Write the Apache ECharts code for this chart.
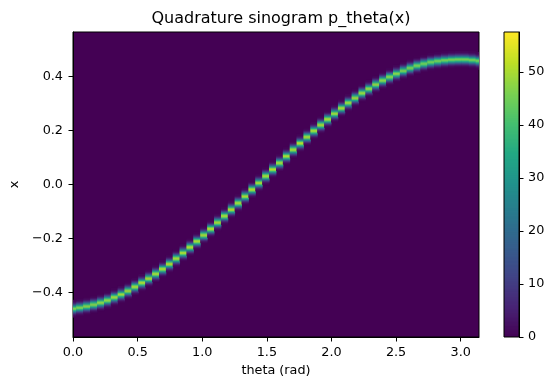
<!DOCTYPE html>
<html>
<head>
<meta charset="utf-8">
<script src="https://cdn.jsdelivr.net/npm/echarts@6/dist/echarts.min.js"></script>
<style>
html, body { margin: 0; padding: 0; background: #fff; }
#chart { width: 556px; height: 390px; }
</style>
</head>
<body>
<div id="chart"></div>
<script>
// theta columns run from 0 to pi
const thetaCount = 60
const thetaMax = Math.PI

// centre of the bright ridge (x) in each theta column
const ridgeCenter = [
    -0.459, -0.455, -0.450, -0.444, -0.437, -0.428, -0.417, -0.406, -0.393, -0.378,
    -0.363, -0.347, -0.330, -0.312, -0.293, -0.273, -0.252, -0.231, -0.209, -0.186,
    -0.163, -0.139, -0.115, -0.091, -0.067, -0.042, -0.017, 0.008, 0.033, 0.058,
    0.082, 0.107, 0.131, 0.155, 0.178, 0.201, 0.223, 0.244, 0.265, 0.285,
    0.305, 0.323, 0.341, 0.357, 0.373, 0.388, 0.401, 0.413, 0.424, 0.434,
    0.443, 0.450, 0.456, 0.460, 0.463, 0.465, 0.466, 0.466, 0.464, 0.461
]

// peak density of the ridge in each column
const ridgePeak = [
    46, 46, 47, 47, 48, 48, 49, 49, 49, 50,
    50, 50, 50, 50, 51, 50, 50, 51, 50, 50,
    51, 50, 50, 51, 50, 50, 51, 50, 50, 51,
    50, 50, 50, 51, 50, 50, 50, 50, 49, 50,
    49, 49, 49, 48, 48, 48, 47, 47, 46, 46,
    46, 45, 45, 45, 45, 45, 45, 45, 45, 45
]

// spread of the ridge across x
const ridgeWidth = 0.0100

const xRange = [-0.566, 0.566]
const cbMax = 57.5

const xTicks = [0, 0.5, 1.0, 1.5, 2.0, 2.5, 3.0]
const yTicks = [-0.4, -0.2, 0.0, 0.2, 0.4]
const cbTicks = [0, 10, 20, 30, 40, 50]

const viridis = ['#440154', '#482475', '#414487', '#355f8d', '#2a788e', '#21918c',
    '#22a884', '#44bf70', '#7ad151', '#bddf26', '#fde725']

const font = 'DejaVu Sans'
const dTheta = thetaMax / (thetaCount - 1)
const dx = 0.004
const cbSteps = 230

const fmt = v => (v < 0 ? '\u2212' : '') + Math.abs(v).toFixed(1)

// cells of the sinogram
const buildCells = () => {
    let cells = []
    const rows = Math.round((xRange[1] - xRange[0]) / dx)
    ridgeCenter.forEach((c, i) => {
        for (let r = 0; r <= rows; r++) {
            let x = xRange[0] + r * dx
            let v = ridgePeak[i] * Math.exp(-0.5 * Math.pow((x - c) / ridgeWidth, 2))
            if (v > 0.3) cells.push([i * dTheta, x, v])
        }
    })
    return cells
}

// colour bar levels
const buildLevels = () => {
    let levels = []
    for (let k = 0; k <= cbSteps; k++) levels.push([0.5, k * cbMax / cbSteps, k * cbMax / cbSteps])
    return levels
}

const renderCell = (params, api) => {
    const p0 = api.coord([api.value(0) - dTheta / 2, api.value(1) + dx / 2])
    const p1 = api.coord([api.value(0) + dTheta / 2, api.value(1) - dx / 2])
    return {
        type: 'rect',
        shape: { x: p0[0], y: p0[1], width: p1[0] - p0[0] + 0.4, height: p1[1] - p0[1] + 0.6 },
        style: { fill: api.visual('color') }
    }
}

const renderLevel = (params, api) => {
    const h = cbMax / cbSteps / 2
    const p0 = api.coord([0, api.value(1) + h])
    const p1 = api.coord([1, api.value(1) - h])
    return {
        type: 'rect',
        shape: { x: p0[0], y: p0[1] - 0.6, width: p1[0] - p0[0], height: p1[1] - p0[1] + 1.2 },
        style: { fill: api.visual('color') }
    }
}

const labelStyle = { color: '#000', fontFamily: font, fontSize: 12.8 }
const lineStyle = { color: '#000', width: 1 }

const option = {
    animation: false,
    textStyle: { fontFamily: font },
    title: {
        text: 'Quadrature sinogram p_theta(x)',
        left: 276, top: 6, textAlign: 'center',
        textStyle: { color: '#000', fontFamily: font, fontSize: 16, fontWeight: 'normal' }
    },
    grid: [
        { left: 73, right: 77, top: 32, bottom: 53, show: true, backgroundColor: '#440154',
          borderColor: '#000', borderWidth: 1 },
        { left: 504, width: 15, top: 32, bottom: 53, show: true, backgroundColor: 'transparent',
          borderColor: '#000', borderWidth: 1, z: 5 }
    ],
    xAxis: [
        {
            type: 'value', gridIndex: 0, min: 0, max: thetaMax, position: 'bottom',
            name: 'theta (rad)', nameLocation: 'middle', nameGap: 25,
            nameTextStyle: labelStyle,
            axisLine: { show: true, onZero: false, lineStyle: lineStyle },
            axisTick: { show: true, inside: false, length: 4.5, lineStyle: lineStyle, customValues: xTicks },
            axisLabel: { ...labelStyle, margin: 9, customValues: xTicks, formatter: fmt },
            splitLine: { show: false }
        },
        { type: 'value', gridIndex: 1, min: 0, max: 1, show: false }
    ],
    yAxis: [
        {
            type: 'value', gridIndex: 0, min: xRange[0], max: xRange[1], position: 'left',
            name: 'x', nameLocation: 'middle', nameGap: 52,
            nameTextStyle: labelStyle,
            axisLine: { show: true, onZero: false, lineStyle: lineStyle },
            axisTick: { show: true, inside: false, length: 4.5, lineStyle: lineStyle, customValues: yTicks },
            axisLabel: { ...labelStyle, margin: 10, customValues: yTicks, formatter: fmt },
            splitLine: { show: false }
        },
        {
            type: 'value', gridIndex: 1, min: 0, max: cbMax, position: 'right',
            axisLine: { show: true, onZero: false, lineStyle: lineStyle },
            axisTick: { show: true, inside: false, length: 4.5, lineStyle: lineStyle, customValues: cbTicks },
            axisLabel: { ...labelStyle, margin: 9, customValues: cbTicks },
            splitLine: { show: false }
        }
    ],
    visualMap: {
        show: false, type: 'continuous', min: 0, max: cbMax, dimension: 2,
        seriesIndex: [0, 1],
        inRange: { color: viridis }
    },
    series: [
        {
            type: 'custom', xAxisIndex: 0, yAxisIndex: 0, clip: true,
            renderItem: renderCell, data: buildCells()
        },
        {
            type: 'custom', xAxisIndex: 1, yAxisIndex: 1, clip: true,
            renderItem: renderLevel, data: buildLevels()
        }
    ]
}

const chart = echarts.init(document.getElementById('chart'), null, { renderer: 'canvas' })
chart.setOption(option)
</script>
</body>
</html>
